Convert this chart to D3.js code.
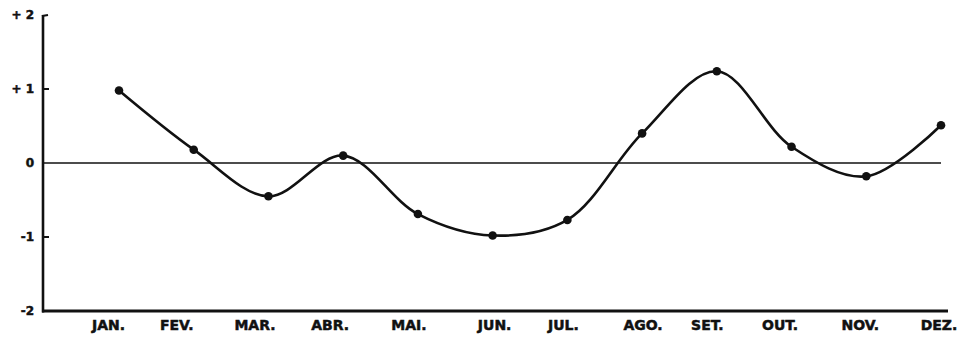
<!DOCTYPE html>
<html><head><meta charset="utf-8">
<script src="https://cdn.jsdelivr.net/npm/d3@7"></script>
<style>html,body{margin:0;padding:0;background:#fff;}svg{display:block;}</style>
</head><body>
<svg id="c" width="964" height="338"></svg>
<script>
const months = ["JAN.","FEV.","MAR.","ABR.","MAI.","JUN.","JUL.","AGO.","SET.","OUT.","NOV.","DEZ."];
const values = [0.98, 0.18, -0.45, 0.10, -0.69, -0.98, -0.77, 0.40, 1.24, 0.22, -0.18, 0.51];
const yTicks = [2, 1, 0, -1, -2];
const yTickLabels = ["+ 2", "+ 1", "0", "-1", "-2"];

const svg = d3.select("#c");
const x = d3.scalePoint().domain(months).range([119, 941]);
const y = d3.scaleLinear().domain([-2, 2]).range([311, 15]);
const ink = "#111";

// y axis line
svg.append("line").attr("x1", 43).attr("x2", 43).attr("y1", y(2)).attr("y2", y(-2) + 1.5)
  .attr("stroke", ink).attr("stroke-width", 2.6);
// top hook
svg.append("line").attr("x1", 42).attr("x2", 48).attr("y1", y(2) + 1).attr("y2", y(2))
  .attr("stroke", ink).attr("stroke-width", 2);
// y ticks (short, pointing right)
yTicks.forEach((t, i) => {
  if (t === 1 || t === -1) {
    svg.append("line").attr("x1", 43).attr("x2", 49).attr("y1", y(t)).attr("y2", y(t))
      .attr("stroke", ink).attr("stroke-width", 2);
  }
  svg.append("text").attr("x", 34).attr("y", y(t) + 4.4)
    .attr("text-anchor", "end")
    .attr("font-family", "DejaVu Sans, sans-serif").attr("font-weight", "bold")
    .attr("font-size", 12).attr("fill", ink)
    .attr("stroke", ink).attr("stroke-width", 0.5).text(yTickLabels[i]);
});

// zero line
svg.append("line").attr("x1", 43).attr("x2", 941).attr("y1", y(0)).attr("y2", y(0))
  .attr("stroke", ink).attr("stroke-width", 1.6);

// bottom axis line
svg.append("line").attr("x1", 42).attr("x2", 948).attr("y1", y(-2)).attr("y2", y(-2))
  .attr("stroke", ink).attr("stroke-width", 3);

// month labels
const labelOffsets = [-10.5, -17, -13.5, -13, -9, 2, -4, 1, -9.5, -11.5, -6, -2];
months.forEach((m, i) => {
  svg.append("text").attr("x", x(m) + labelOffsets[i]).attr("y", 330)
    .attr("text-anchor", "middle")
    .attr("font-family", "DejaVu Sans, sans-serif").attr("font-weight", "bold")
    .attr("font-size", 14).attr("fill", ink)
    .attr("stroke", ink).attr("stroke-width", 0.5).text(m);
});

// curve
const data = months.map((m, i) => ({m, v: values[i]}));
const line = d3.line().x(d => x(d.m)).y(d => y(d.v)).curve(d3.curveCatmullRom.alpha(0.5));
svg.append("path").datum(data).attr("d", line).attr("fill", "none")
  .attr("stroke", ink).attr("stroke-width", 2.6);

svg.selectAll("circle.pt").data(data).enter().append("circle")
  .attr("class", "pt").attr("cx", d => x(d.m)).attr("cy", d => y(d.v)).attr("r", 4.3)
  .attr("fill", ink);
</script>
</body></html>
